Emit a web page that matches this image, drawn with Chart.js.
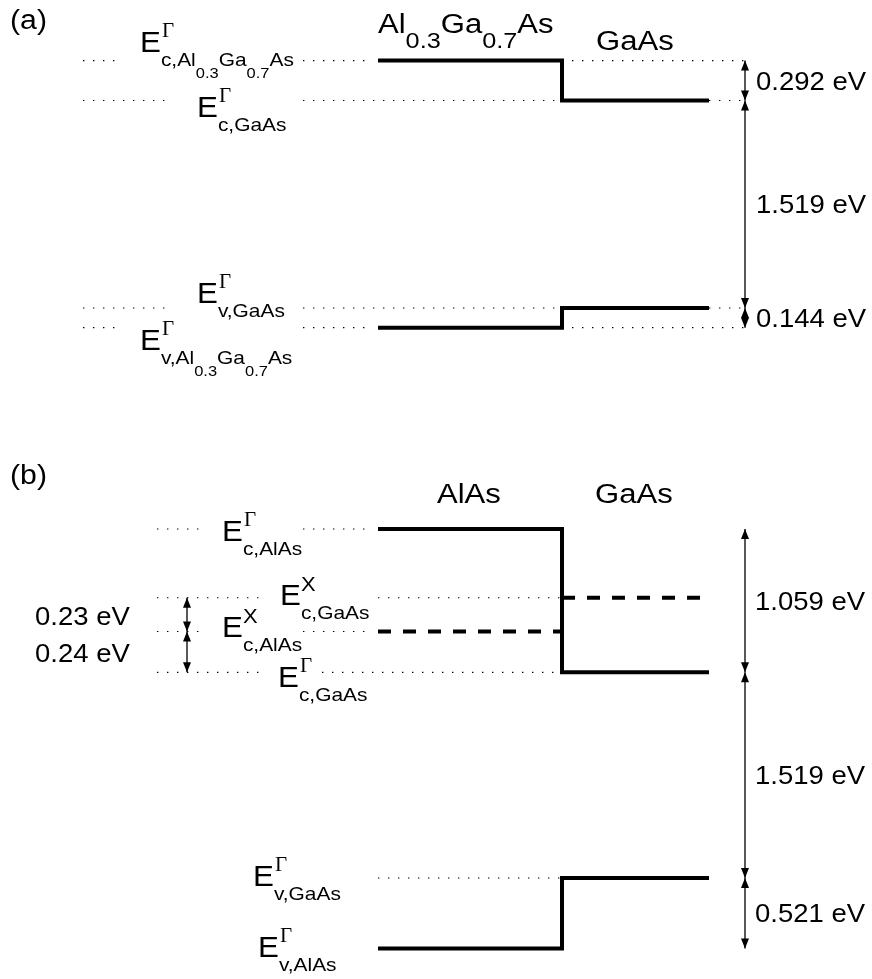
<!DOCTYPE html>
<html>
<head>
<meta charset="utf-8">
<script src="https://cdn.jsdelivr.net/npm/chart.js@4.4.0/dist/chart.umd.min.js"></script>
<style>
html, body { margin: 0; padding: 0; background: #fff; }
</style>
</head>
<body>
<canvas id="bands" width="872" height="979"></canvas>
<script>
// band edges in eV, measured from the GaAs valence band edge
// panel (a): Al0.3Ga0.7As | GaAs
const ecA = [1.811, 1.519];
const evA = [-0.144, 0];
const offsetLabelsA = ['0.292 eV', '1.519 eV', '0.144 eV'];

// panel (b): AlAs | GaAs  (X valleys drawn where the sketch puts them)
const ecGammaB = [2.578, 1.519];
const ecXB = [1.82, 2.07];
const evB = [-0.521, 0];
const offsetLabelsB = ['1.059 eV', '1.519 eV', '0.521 eV'];
const xOffsetLabelsB = ['0.23 eV', '0.24 eV'];

// horizontal layout of the sketch
const xLeft = 378, xJunction = 562, xRight = 709, xArrow = 745, xArrowB = 187;

const SANS = '"Liberation Sans", Arial, sans-serif';
const SERIF = '"Liberation Serif", "Times New Roman", serif';

function stepLine(axis, lv) {
    return {
        data: [{x: xLeft, y: lv[0]}, {x: xJunction, y: lv[0]}, {x: xJunction, y: lv[1]}, {x: xRight, y: lv[1]}],
        yAxisID: axis, borderColor: '#000', borderWidth: 4, borderJoinStyle: 'miter'
    }
}

function dashed(axis, x0, x1, y) {
    return {
        data: [{x: x0, y: y}, {x: x1, y: y}],
        yAxisID: axis, borderColor: '#000', borderWidth: 4, borderDash: [13, 12]
    }
}

// dotted guide with several pieces on one energy
function guide(axis, y, ranges) {
    let pts = []
    ranges.forEach(r => {
        pts.push({x: r[0], y: y}, {x: r[1], y: y}, {x: r[1] + 1, y: null})
    })
    return {
        data: pts, yAxisID: axis, borderColor: '#000', borderWidth: 1.1,
        borderDash: [1.4, 8.6], spanGaps: false
    }
}

function arrow(axis, x, y0, y1) {
    return {
        data: [{x: x, y: y0}, {x: x, y: y1}],
        yAxisID: axis, borderColor: '#000', borderWidth: 1.3, arrow: true
    }
}

const datasets = [
    guide('yA', ecA[0], [[83, 120], [303, 372], [xJunction, xArrow]]),
    guide('yA', ecA[1], [[83, 172], [303, xJunction], [xRight, xArrow]]),
    guide('yA', evA[1], [[83, 172], [303, xJunction], [xRight, xArrow]]),
    guide('yA', evA[0], [[83, 120], [303, 372], [xJunction, xArrow]]),
    guide('yB', ecGammaB[0], [[157, 205], [303, 372]]),
    guide('yB', ecXB[1], [[157, 265], [xLeft, xJunction]]),
    guide('yB', ecXB[0], [[157, 205], [303, 372]]),
    guide('yB', ecGammaB[1], [[157, 265], [322, xJunction]]),
    guide('yB', evB[1], [[xLeft, xJunction]]),

    stepLine('yA', ecA),
    stepLine('yA', evA),
    stepLine('yB', ecGammaB),
    stepLine('yB', evB),
    dashed('yB', xLeft, xJunction, ecXB[0]),
    dashed('yB', xJunction, xRight, ecXB[1]),

    arrow('yA', xArrow, ecA[0], ecA[1]),
    arrow('yA', xArrow, ecA[1], evA[1]),
    arrow('yA', xArrow, evA[1], evA[0]),
    arrow('yB', xArrow, ecGammaB[0], ecGammaB[1]),
    arrow('yB', xArrow, ecGammaB[1], evB[1]),
    arrow('yB', xArrow, evB[1], evB[0]),
    arrow('yB', xArrowB, ecXB[1], ecXB[0]),
    arrow('yB', xArrowB, ecXB[0], ecGammaB[1]),
]
datasets.forEach(d => { d.showLine = true; d.pointRadius = 0; d.fill = false })

function txt(ctx, s, x, y, size, fam, sx) {
    ctx.save()
    ctx.font = size + 'px ' + fam
    ctx.translate(x, y)
    ctx.scale(sx, 1)
    ctx.fillText(s, 0, 0)
    const w = ctx.measureText(s).width * sx
    ctx.restore()
    return w
}

// alternating normal / lowered pieces, e.g. Al 0.3 Ga 0.7 As
function formula(ctx, parts, x, y, size, subSize, drop, sx) {
    parts.forEach((p, i) => {
        if (i % 2 == 0) x += txt(ctx, p, x, y, size, SANS, sx)
        else x += txt(ctx, p, x, y + drop, subSize, SANS, sx)
    })
}

const arrowHeads = {
    id: 'arrowHeads',
    afterDatasetsDraw(chart) {
        const ctx = chart.ctx
        ctx.save()
        ctx.fillStyle = '#000'
        chart.data.datasets.forEach((d, i) => {
            if (!d.arrow) return
            const pts = chart.getDatasetMeta(i).data
            const a = pts[0], b = pts[1]
            const dir = Math.sign(b.y - a.y)
            ;[[a, -dir], [b, dir]].forEach(([p, s]) => {
                ctx.beginPath()
                ctx.moveTo(p.x, p.y)
                ctx.lineTo(p.x - 4, p.y - s * 10)
                ctx.lineTo(p.x + 4, p.y - s * 10)
                ctx.closePath()
                ctx.fill()
            })
        })
        ctx.restore()
    }
}

// E labels: axis, level, x of E, baseline offset, superscript, subscript parts
const levelTags = [
    ['yA', ecA[0], 140, -9, 'Γ', ['c,Al', '0.3', 'Ga', '0.7', 'As']],
    ['yA', ecA[1], 197, 16, 'Γ', ['c,GaAs']],
    ['yA', evA[1], 197, -5, 'Γ', ['v,GaAs']],
    ['yA', evA[0], 140, 22, 'Γ', ['v,Al', '0.3', 'Ga', '0.7', 'As']],
    ['yB', ecGammaB[0], 222, 12, 'Γ', ['c,AlAs']],
    ['yB', ecXB[1], 280, 7, 'X', ['c,GaAs']],
    ['yB', ecXB[0], 222, 5, 'X', ['c,AlAs']],
    ['yB', ecGammaB[1], 278, 15, 'Γ', ['c,GaAs']],
    ['yB', evB[1], 253, 8, 'Γ', ['v,GaAs']],
    ['yB', evB[0], 258, 8, 'Γ', ['v,AlAs']],
]

const labels = {
    id: 'labels',
    afterDraw(chart) {
        const ctx = chart.ctx
        const sx = chart.scales.x
        ctx.save()
        ctx.fillStyle = '#000'
        ctx.textBaseline = 'alphabetic'

        txt(ctx, '(a)', 10, 29, 27, SANS, 1.12)
        txt(ctx, '(b)', 10, 484, 27, SANS, 1.12)

        formula(ctx, ['Al', '0.3', 'Ga', '0.7', 'As'], sx.getPixelForValue(xLeft), 33, 27, 22, 15, 1.15)
        txt(ctx, 'GaAs', 596, 50, 27, SANS, 1.15)
        txt(ctx, 'AlAs', 437, 503, 27, SANS, 1.15)
        txt(ctx, 'GaAs', 595, 503, 27, SANS, 1.15)

        levelTags.forEach(([axis, lv, x, dy, sup, sub]) => {
            const base = chart.scales[axis].getPixelForValue(lv) + dy
            const w = txt(ctx, 'E', x, base, 29, SANS, 1.08)
            if (sup == 'Γ') txt(ctx, sup, x + w + 1, base - 15, 21, SERIF, 1.0)
            else txt(ctx, sup, x + w, base - 14, 20, SANS, 1.1)
            formula(ctx, sub, x + w, base + 14, 19, 15, 12, 1.1)
        })

        const gaps = [
            ['yA', [ecA[0], ecA[1], evA[1], evA[0]], offsetLabelsA, 756],
            ['yB', [ecGammaB[0], ecGammaB[1], evB[1], evB[0]], offsetLabelsB, 755],
        ]
        gaps.forEach(([axis, lv, lab, x]) => {
            const ys = chart.scales[axis]
            lab.forEach((t, i) => {
                const mid = (ys.getPixelForValue(lv[i]) + ys.getPixelForValue(lv[i + 1])) / 2
                txt(ctx, t, x, mid + 9, 25, SANS, 1.1)
            })
        })
        const yB = chart.scales.yB
        const xl = [ecXB[1], ecXB[0], ecGammaB[1]]
        xOffsetLabelsB.forEach((t, i) => {
            const mid = (yB.getPixelForValue(xl[i]) + yB.getPixelForValue(xl[i + 1])) / 2
            txt(ctx, t, 35, mid + 10, 25, SANS, 1.1)
        })
        ctx.restore()
    }
}

const config = {
    type: 'scatter',
    data: {datasets: datasets},
    options: {
        responsive: false,
        animation: false,
        layout: {padding: 0},
        plugins: {legend: {display: false}, tooltip: {enabled: false}, title: {display: false}},
        scales: {
            x: {type: 'linear', min: 0, max: 872, display: false},
            yA: {type: 'linear', position: 'left', min: -(979 - 308) / 136.6, max: 308 / 136.6, display: false},
            yB: {type: 'linear', position: 'left', min: -(979 - 878) / 135.4, max: 878 / 135.4, display: false},
        }
    },
    plugins: [arrowHeads, labels]
};

let ctx = document.getElementById('bands').getContext('2d')

new Chart(ctx, config)
</script>
</body>
</html>
